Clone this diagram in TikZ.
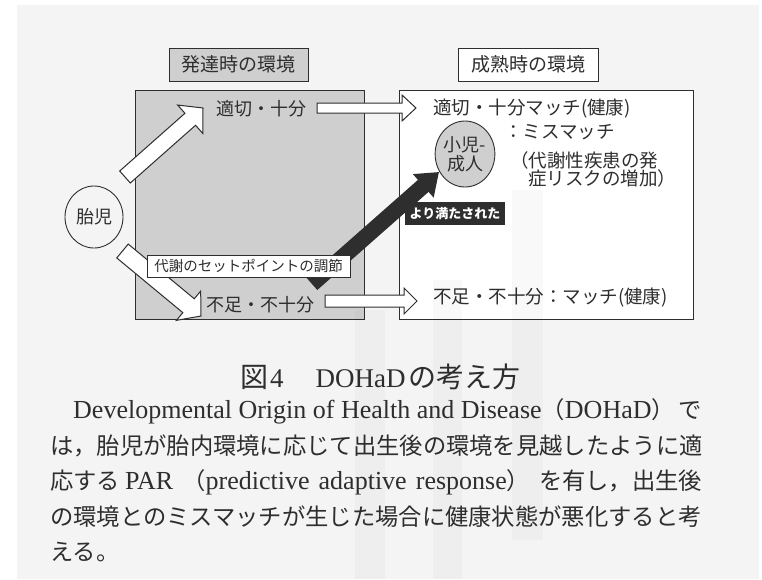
\documentclass[tikz,border=0pt]{standalone}
\usepackage{fontspec}
\setmainfont{Liberation Serif}
\newfontfamily\jp{Noto Sans CJK JP}
\newfontfamily\lat{Liberation Serif}
\usetikzlibrary{calc,arrows.meta,shapes.geometric}
\definecolor{ink}{HTML}{2E2E2E}
\definecolor{pagebg}{HTML}{F4F4F4}
\definecolor{boxgray}{HTML}{CFCFCF}
\newcommand\fsz[1]{\fontsize{#1}{#1}\selectfont}
\tikzset{
  hollow/.style={draw=ink, fill=white, line width=1pt, line join=miter},
  bigbox/.style={draw=ink, line width=0.9pt, minimum width=229pt, minimum height=229pt},
  hdr/.style={draw=ink, line width=0.9pt, minimum width=139pt, minimum height=33pt, font=\jp\fsz{19}},
  lbl/.style={font=\jp\fsz{18}},
  rlbl/.style={font=\jp\fsz{18.5}, anchor=west},
  para/.style={anchor=west, font=\jp\fsz{23.3}},
}
\newcommand\hollowarrow[5]{%
  \draw[hollow] let \p1=($(#2)-(#1)$), \n1={atan2(\y1,\x1)}, \n2={veclen(\x1,\y1)} in
    ($(#1)+(\n1+90:#3)$) -- ($(#1)+(\n1:\n2-#5)+(\n1+90:#3)$) -- ($(#1)+(\n1:\n2-#5)+(\n1+90:#4)$) -- (#2)
    -- ($(#1)+(\n1:\n2-#5)+(\n1-90:#4)$) -- ($(#1)+(\n1:\n2-#5)+(\n1-90:#3)$) -- ($(#1)+(\n1-90:#3)$) -- cycle;}
\begin{document}
\begin{tikzpicture}[x=1pt,y=-1pt, every node/.style={inner sep=0pt, text=ink}]
\useasboundingbox (0,0) rectangle (762,579);
\fill[white] (0,0) rectangle (762,579);
\fill[pagebg] (17,5) rectangle (759,579);

% big boxes
\node[bigbox, fill=boxgray] (L) at (249.5,204.5) {};
\node[bigbox, fill=white, minimum width=294pt] (R) at (546,204.5) {};
% headers
\node[hdr, fill=boxgray] (h1) at (238.5,64.5) {発達時の環境};
\node[hdr, fill=white, minimum width=140pt] (h2) at (528,64.5) {成熟時の環境};

% left labels
\node[lbl] (ok) at (261,109) {適切・十分};
\node[lbl] (ng) at (260,305) {不足・不十分};

% hollow arrows
\coordinate (u1) at (125,177); \coordinate (u2) at (203,108);
\coordinate (l1) at (122.5,251); \coordinate (l2) at (201,316);
\coordinate (t1) at (317,108); \coordinate (t2) at (416,108);
\coordinate (b1) at (325,301); \coordinate (b2) at (417,301);
\hollowarrow{u1}{u2}{8pt}{19pt}{17pt}
\hollowarrow{l1}{l2}{9pt}{19pt}{16pt}
\hollowarrow{t1}{t2}{5pt}{13pt}{14pt}
\hollowarrow{b1}{b2}{6pt}{13pt}{13pt}

% dark arrow
\coordinate (dT) at (312,284); \coordinate (dP) at (439,172);
\draw[ink, line width=16pt, -{Triangle[length=21pt,width=30pt]}] (dT) -- (dP);

% metabolic set point box
\node[draw=ink, fill=white, line width=0.8pt, minimum width=203pt, minimum height=22pt, font=\jp\fsz{14.5}] (meta) at (248.5,266) {代謝のセットポイントの調節};
% better fed label
\node[fill=ink, minimum width=100pt, minimum height=23pt, font=\jp\bfseries\fsz{13}, text=white] (mit) at (455,213.5) {より満たされた};

% circles
\node[ellipse, draw=ink, line width=0.9pt, fill=pagebg, minimum width=58pt, minimum height=62pt, font=\jp\fsz{18}] (fetus) at (94,217) {胎児};
\node[ellipse, draw=ink, line width=0.9pt, fill=boxgray, minimum width=56pt, minimum height=66pt, align=center, font=\jp\fontsize{18}{19}\selectfont] (child) at (465,154) {小児-\\成人};

% right labels
\node[rlbl] (okm) at (433,109) {適切・十分マッチ(健康)};
\node[rlbl] (mis) at (504,132) {：ミスマッチ};
\node[rlbl] (dis1) at (510,160) {（代謝性疾患の発};
\node[rlbl] (dis2) at (528,178) {症リスクの増加）};
\node[rlbl] (ngm) at (433,298) {不足・不十分：マッチ(健康)};

% caption
\node[anchor=west] (cap) at (240,377) {\jp\fsz{28}図\hspace{2pt}\lat\fsz{27}4\hspace{32pt}DOHaD\hspace{3pt}\jp\fsz{28}の考え方};
\node[para] (p1) at (73,411) {\makebox[629pt][s]{\lat\fsz{26}Developmental Origin of Health and Disease\jp\fsz{23.3}（\lat\fsz{26}DOHaD\jp\fsz{23.3}）\hspace{4pt}で}};
\node[para] (p2) at (50,446) {は，胎児が胎内環境に応じて出生後の環境を見越したように適};
\node[para] (p3) at (50,482) {\makebox[652pt][s]{\jp\fsz{23.3}応する\hspace{5pt}\lat\fsz{26}PAR \jp\fsz{23.3}（\lat\fsz{26}predictive adaptive response\jp\fsz{23.3}）\hspace{9pt}を有し，出生後}};
\node[para] (p4) at (50,517) {の環境とのミスマッチが生じた場合に健康状態が悪化すると考};
\node[para] (p5) at (50,552) {える。};

% faint show-through stripes
\fill[black, opacity=0.025] (355,310) rectangle (385,579);
\fill[black, opacity=0.025] (433,280) rectangle (462,579);
\fill[black, opacity=0.025] (512,190) rectangle (543,540);
\end{tikzpicture}
\end{document}
